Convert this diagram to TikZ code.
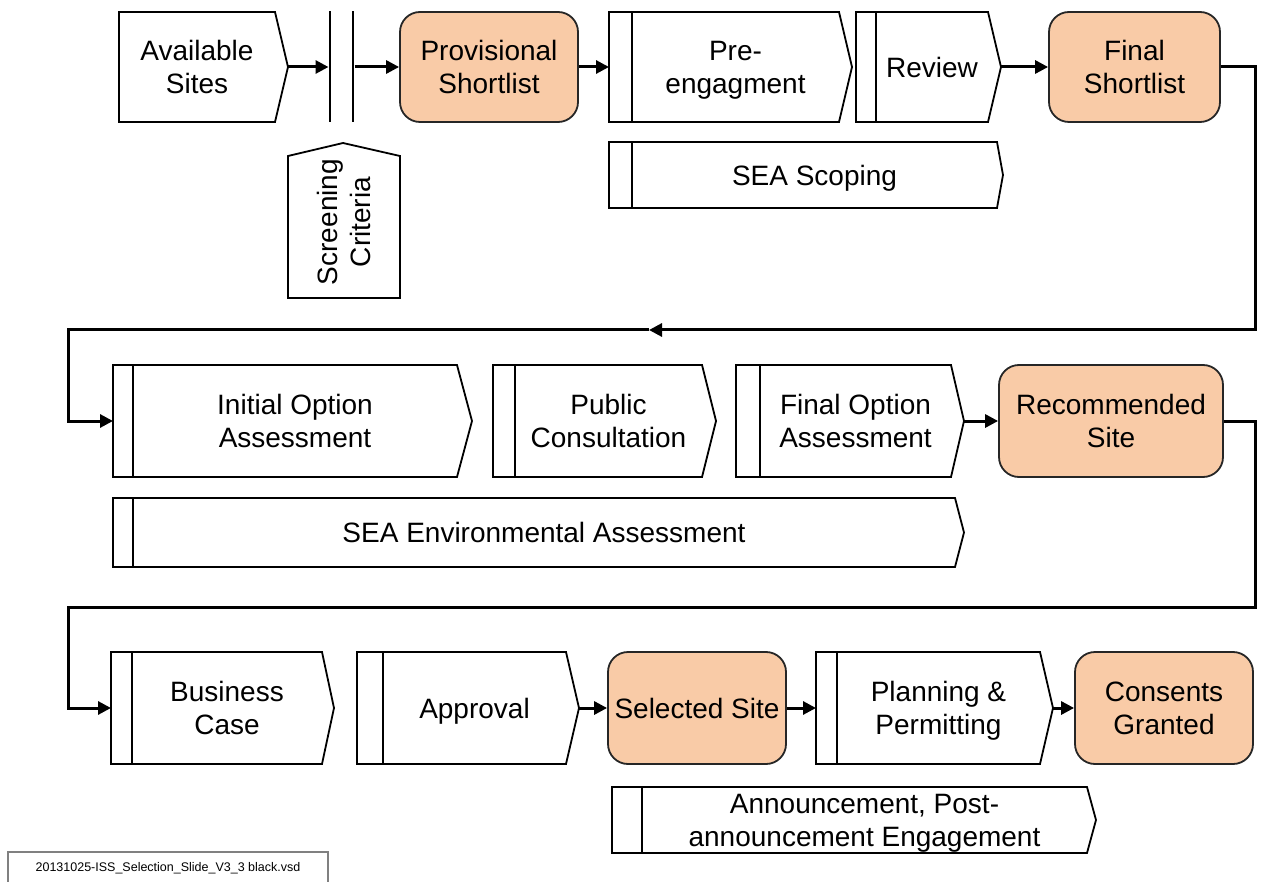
\documentclass[tikz,border=0pt]{standalone}
\usepackage{fontspec}
\setmainfont{Liberation Sans}
\usetikzlibrary{arrows.meta}

\definecolor{peach}{HTML}{F9CBA7}

\tikzset{
	stageline/.style = {line width=1.8pt},
	stagetext/.style = {align=center, inner sep=0pt, text depth=0pt},
	milestone/.style = {draw=black!85, line width=1.8pt, fill=peach, rounded corners=20pt, align=center, minimum height=112pt},
	gate/.style = {fill=black, inner sep=0pt, minimum width=2.6pt, minimum height=111pt},
	link/.style = {line width=3pt, -{Triangle[length=13pt, width=13pt]}},
}

% name, left, bar, flat right, tip, top, bottom, text
\newcommand{\stagebox}[8]{%
	\node [stagetext] (#1) at ({(#3+#4)/2},{(#6+#7)/2}) {#8};
	\draw [stageline] (#2,#6) -- (#4,#6) -- (#5,{(#6+#7)/2}) coordinate (#1-tip)
		-- (#4,#7) -- (#2,#7) -- cycle;
	\draw [stageline] (#3,#6) -- (#3,#7);
	\coordinate (#1-in) at (#2,{(#6+#7)/2});
}

\begin{document}
\begin{tikzpicture}[x=1pt, y=-1pt, font=\fontsize{28}{33}\selectfont]
	\useasboundingbox (0,0) rectangle (1263,882);

	% first row
	\stagebox{avail}{119}{119}{275}{288}{12}{122}{Available\\Sites}
	\node [gate] (gate1) at (330,67) {};
	\node [gate] (gate2) at (353,67) {};
	\draw [stageline] (288,298) -- (288,156) -- (343,143) -- (400,156) -- (400,298) -- cycle;
	\node [stagetext, rotate=90] (screen) at (344,222) {Screening\\Criteria};
	\node [milestone, minimum width=178pt, minimum height=110pt] (prov) at (489,67) {Provisional\\Shortlist};
	\stagebox{pre}{609}{632}{839}{852}{12}{122}{Pre-\\engagment}
	\stagebox{review}{856}{876}{988}{1001}{12}{122}{Review}
	\node [milestone, minimum width=171pt, minimum height=110pt] (finalsl) at (1134.5,67) {Final\\Shortlist};
	\stagebox{scoping}{609}{632}{997}{1003}{142}{208}{SEA Scoping}

	% second row
	\stagebox{initial}{113}{133}{457}{472}{365}{477}{Initial Option\\Assessment}
	\stagebox{public}{493}{515}{702}{716}{365}{477}{Public\\Consultation}
	\stagebox{finalopt}{736}{760}{951}{964}{365}{477}{Final Option\\Assessment}
	\node [milestone, minimum width=224pt] (recsite) at (1111,421) {Recommended\\Site};
	\stagebox{envassess}{113}{133}{955}{964}{498}{567}{SEA Environmental Assessment}

	% third row
	\stagebox{business}{111}{132}{322}{334}{652}{764}{Business\\Case}
	\stagebox{approval}{357}{383}{566}{579}{652}{764}{Approval}
	\node [milestone, minimum width=178pt] (selsite) at (697,708) {Selected Site};
	\stagebox{planning}{816}{837}{1040}{1053}{652}{764}{Planning \&\\Permitting}
	\node [milestone, minimum width=178pt] (consents) at (1164,708) {Consents\\Granted};
	\stagebox{announce}{612}{642}{1087}{1096}{787}{853}{Announcement, Post-\\announcement Engagement}

	% file name
	\node [font=\fontsize{12.5}{15}\selectfont] (fname) at (168,868) {20131025-ISS\_Selection\_Slide\_V3\_3 black.vsd};
	\draw [line width=1.5pt, draw=gray] (8,890) |- (328,852) -- (328,890);

	% connectors
	\draw [link] (avail-tip) -- (gate1);
	\draw [link] (gate2) -- (prov);
	\draw [link] (prov) -- (pre-in);
	\draw [link] (review-tip) -- (finalsl);

	\coordinate (back1) at (649,330);
	\draw [link] (finalsl.east) -| (1255,330) -- (back1);
	\draw [link] (back1) -| (68,421) -- (initial-in);

	\draw [link] (finalopt-tip) -- (recsite);
	\draw [link] (recsite.east) -| (1255,607) -| (68,708) -- (business-in);

	\draw [link] (approval-tip) -- (selsite);
	\draw [link] (selsite) -- (planning-in);
	\draw [link] (planning-tip) -- (consents);
\end{tikzpicture}
\end{document}
